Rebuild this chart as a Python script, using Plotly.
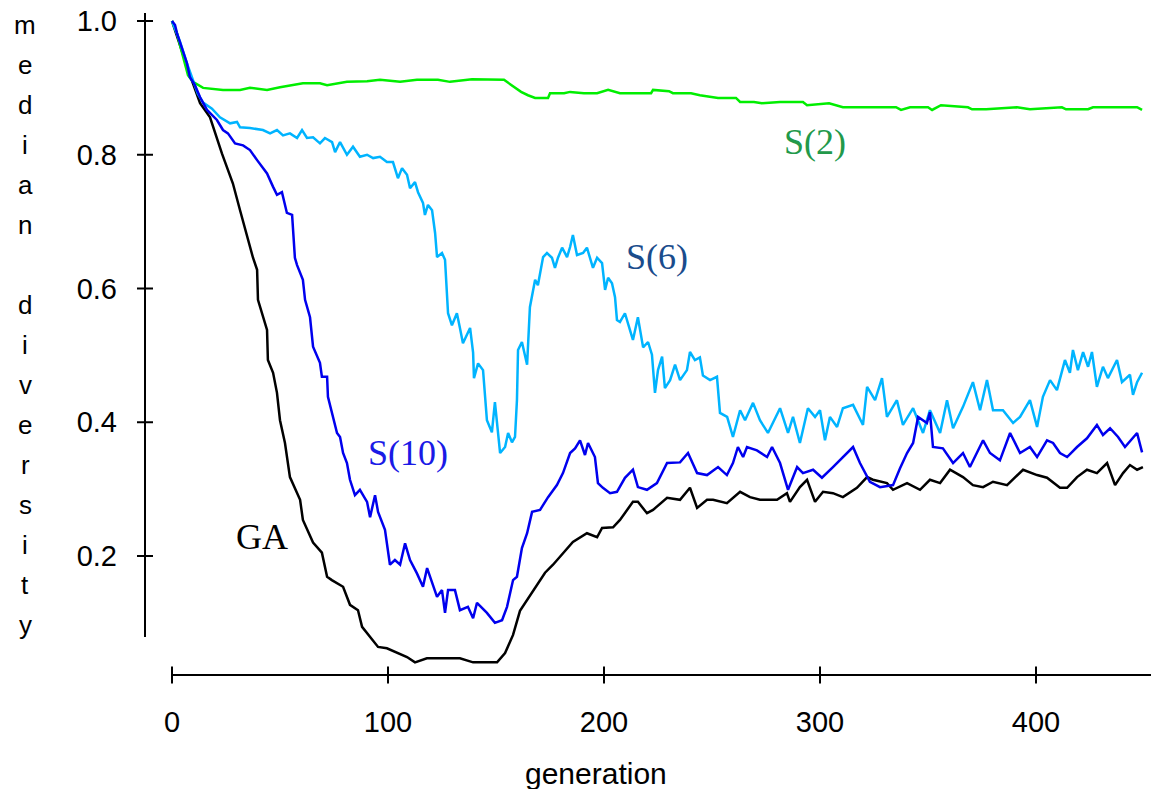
import plotly.graph_objects as go

# ---------------- data ----------------
ga_gen = [0, 3.7, 8.3, 13, 17.6, 23.1, 28.2, 31.5, 34.7, 37.5, 39.4, 39.8, 44, 44.4, 46.8, 48.6,
          50, 52.3, 54.6, 59.3, 60.6, 65.3, 69.4, 71.8, 74, 79.2, 82.4, 86.1, 88, 91.7, 95.4,
          99.5, 104.2, 108.8, 112.5, 118, 124, 133.3, 139.4, 150.5, 154.2, 157.9, 161.1, 164.4,
          167.1, 172.7, 176.4, 181, 185.6, 192.1, 196.8, 199.1, 204.2, 207.4, 213.4, 215.7,
          219.9, 222.7, 229.2, 235.2, 239.8, 243.1, 247.7, 250.5, 256.9, 263, 267.6, 272.2,
          280.1, 284.7, 286.1, 290.7, 294, 297.7, 301.4, 306, 310.6, 317.1, 321.8, 324.5, 331,
          333.8, 340.3, 346.3, 350.9, 355.6, 360.2, 366.2, 370.8, 375.5, 380.1, 386.6, 394,
          400.5, 405.1, 411.1, 414.4, 419, 423.6, 428.2, 432.9, 436.6, 440.3, 443.5, 446.8, 449.5]
ga_div = [1.0, 0.964, 0.919, 0.877, 0.856, 0.802, 0.757, 0.717, 0.677, 0.646, 0.628, 0.583, 0.538,
          0.493, 0.474, 0.444, 0.403, 0.369, 0.318, 0.284, 0.254, 0.220, 0.205, 0.169, 0.164,
          0.154, 0.127, 0.119, 0.094, 0.079, 0.064, 0.062, 0.056, 0.049, 0.041, 0.047, 0.047,
          0.047, 0.041, 0.041, 0.055, 0.082, 0.118, 0.134, 0.149, 0.175, 0.187, 0.204, 0.221,
          0.234, 0.228, 0.242, 0.243, 0.254, 0.281, 0.281, 0.264, 0.269, 0.287, 0.284, 0.302,
          0.272, 0.284, 0.284, 0.279, 0.296, 0.288, 0.284, 0.284, 0.294, 0.281, 0.303, 0.314,
          0.281, 0.296, 0.294, 0.288, 0.302, 0.318, 0.314, 0.309, 0.299, 0.309, 0.299, 0.314,
          0.309, 0.329, 0.318, 0.306, 0.303, 0.311, 0.306, 0.329, 0.321, 0.317, 0.302, 0.302,
          0.318, 0.329, 0.324, 0.339, 0.306, 0.324, 0.336, 0.329, 0.333]

s10_gen = [0, 1.4, 2.3, 3.7, 6.9, 8.3, 10.6, 13, 16.2, 20.8, 23.6, 25.9, 29.2, 32.9, 36.1, 39.4,
           41.7, 44, 46.8, 48.6, 50.9, 53.2, 55.6, 56.9, 57.9, 60.6, 61.6, 63.9, 65.3, 68.5,
           69.4, 71.8, 72.2, 74.5, 76.4, 77.8, 79.2, 81, 82.4, 84.7, 87, 90.3, 91.7, 94, 95.4,
           98.6, 100.9, 103.2, 105.6, 107.9, 110.2, 113.4, 116.2, 118.1, 120.4, 122.7, 125,
           126.4, 127.8, 131, 133.3, 137, 139.4, 141.2, 145.8, 149.5, 152.8, 155.1, 157.9, 159.7,
           162, 164.4, 166.7, 170.4, 174.1, 178.2, 181, 184.3, 186.6, 188.9, 191.2, 192.6, 195.8,
           197.2, 199.5, 202.8, 206, 209.7, 213.4, 215.7, 219.9, 224.5, 229.2, 235.2, 238.9,
           243.1, 247.7, 252.8, 256.9, 259.7, 262, 264.4, 266.2, 270.8, 275.5, 277.8, 281.5,
           285.2, 289.4, 292.1, 296.8, 300.9, 306, 310.6, 315.3, 318.5, 323.1, 327.8, 333.8, 337,
           340.3, 343.1, 345.4, 349.5, 350.9, 352.3, 356.9, 361.6, 366.2, 369.4, 372.7, 375.5,
           378.7, 383.3, 388, 392.6, 397.2, 400.5, 405.1, 407.9, 411.1, 414.4, 419, 423.6, 428.2,
           431, 434.3, 438, 441.2, 446.8, 449.1]
s10_div = [1.0, 0.994, 0.982, 0.969, 0.937, 0.916, 0.904, 0.886, 0.867, 0.852, 0.837, 0.832, 0.817,
           0.814, 0.807, 0.792, 0.781, 0.772, 0.752, 0.740, 0.744, 0.713, 0.710, 0.646, 0.635,
           0.613, 0.583, 0.557, 0.513, 0.489, 0.468, 0.468, 0.438, 0.408, 0.384, 0.378, 0.354,
           0.339, 0.314, 0.291, 0.299, 0.281, 0.258, 0.291, 0.266, 0.239, 0.187, 0.194, 0.187,
           0.219, 0.194, 0.174, 0.154, 0.182, 0.160, 0.139, 0.149, 0.115, 0.149, 0.149, 0.119,
           0.124, 0.107, 0.130, 0.115, 0.100, 0.104, 0.124, 0.164, 0.169, 0.212, 0.234, 0.266,
           0.269, 0.288, 0.306, 0.324, 0.354, 0.361, 0.373, 0.351, 0.369, 0.348, 0.309, 0.302,
           0.294, 0.296, 0.317, 0.329, 0.303, 0.299, 0.309, 0.339, 0.340, 0.354, 0.324, 0.321,
           0.333, 0.321, 0.339, 0.363, 0.348, 0.363, 0.358, 0.348, 0.363, 0.339, 0.299, 0.333,
           0.324, 0.329, 0.317, 0.333, 0.348, 0.363, 0.339, 0.311, 0.303, 0.306, 0.331, 0.354,
           0.369, 0.408, 0.399, 0.415, 0.363, 0.361, 0.339, 0.354, 0.333, 0.354, 0.373, 0.354,
           0.343, 0.384, 0.354, 0.363, 0.348, 0.373, 0.369, 0.354, 0.348, 0.363, 0.376, 0.396,
           0.381, 0.391, 0.378, 0.363, 0.384, 0.355]

s6_gen = [0, 3.7, 6.9, 10.6, 12, 14.4, 18.5, 22.2, 26.9, 30.1, 31.5, 36.1, 42.1, 45.4, 48.6, 51.4,
          54.6, 57.9, 60.2, 62.5, 65.3, 68.5, 70.8, 74.1, 75.5, 77.8, 81, 83.8, 87, 90.3, 93.1,
          96.3, 99.5, 102.3, 104.6, 106.5, 108.8, 110.2, 112.5, 113.9, 116.2, 117.1, 118.5,
          120.4, 121.8, 122.7, 125, 126.4, 127.8, 129.6, 131.9, 133.3, 134.7, 138, 139.4, 139.8,
          141.7, 144, 144.9, 145.8, 148.1, 149.5, 151.9, 154.2, 155.6, 157.4, 158.8, 159.7,
          160.2, 162, 164.4, 165.7, 168.1, 169.4, 171.8, 173.6, 175.9, 177.3, 178.7, 180.6,
          182.9, 184.3, 185.6, 187.5, 190.3, 192.1, 194.9, 196.8, 199.1, 200.5, 201.9, 203.7,
          205.1, 206, 207.4, 209.7, 212, 213.4, 215.7, 218.1, 220.4, 222.2, 223.6, 225, 226.9,
          228.2, 230.6, 232.9, 235.2, 238.4, 239.8, 242.1, 244.4, 245.8, 249.1, 252.3, 253.7,
          257, 259.7, 263, 265.3, 269, 272.2, 275.9, 281.5, 285.2, 287.5, 290.7, 294.4, 297.7,
          300, 302.3, 304.6, 307.9, 310.6, 315.3, 319.9, 321.8, 325.5, 328.7, 331, 335.6, 338.4,
          343.1, 347.7, 350.9, 355.6, 358.8, 361.6, 366.2, 370.8, 374.1, 377.3, 380.1, 384.7,
          389.4, 392.6, 397.2, 400.5, 403.2, 406.5, 409.7, 413.4, 415.7, 417.1, 419.4, 421.8,
          424.1, 425.9, 428.2, 431, 433.3, 437.5, 439.8, 443.5, 444.9, 446.8, 449.1]
s6_div = [1.0, 0.969, 0.937, 0.904, 0.891, 0.878, 0.869, 0.856, 0.847, 0.849, 0.841, 0.840, 0.837,
          0.832, 0.837, 0.829, 0.832, 0.825, 0.837, 0.825, 0.826, 0.817, 0.825, 0.819, 0.804,
          0.819, 0.800, 0.812, 0.797, 0.800, 0.795, 0.797, 0.789, 0.789, 0.765, 0.780, 0.770,
          0.750, 0.759, 0.744, 0.728, 0.710, 0.725, 0.717, 0.683, 0.647, 0.653, 0.643, 0.563,
          0.545, 0.563, 0.541, 0.518, 0.541, 0.504, 0.466, 0.488, 0.478, 0.433, 0.403, 0.385,
          0.430, 0.354, 0.363, 0.384, 0.370, 0.378, 0.433, 0.508, 0.520, 0.486, 0.572, 0.613,
          0.605, 0.647, 0.653, 0.646, 0.631, 0.646, 0.661, 0.647, 0.662, 0.680, 0.650, 0.653,
          0.661, 0.631, 0.646, 0.638, 0.598, 0.616, 0.608, 0.587, 0.553, 0.550, 0.563, 0.538,
          0.523, 0.557, 0.512, 0.520, 0.501, 0.444, 0.478, 0.498, 0.451, 0.463, 0.486, 0.463,
          0.478, 0.505, 0.493, 0.497, 0.470, 0.463, 0.468, 0.414, 0.408, 0.378, 0.418, 0.403,
          0.429, 0.403, 0.384, 0.421, 0.384, 0.408, 0.369, 0.421, 0.408, 0.418, 0.373, 0.408,
          0.393, 0.421, 0.426, 0.396, 0.453, 0.433, 0.466, 0.408, 0.433, 0.396, 0.421, 0.384,
          0.418, 0.384, 0.433, 0.391, 0.423, 0.460, 0.418, 0.463, 0.418, 0.418, 0.399, 0.408,
          0.433, 0.393, 0.438, 0.463, 0.448, 0.493, 0.474, 0.508, 0.478, 0.505, 0.483, 0.505,
          0.453, 0.483, 0.466, 0.493, 0.460, 0.471, 0.441, 0.460, 0.474]

s2_gen = [0, 2.3, 3.7, 5.6, 7.4, 9.7, 14.4, 23.6, 31.5, 36.1, 44, 50, 56, 60.6, 68.5, 71.8, 81,
          90.3, 96.3, 105.6, 113.4, 123.1, 128.7, 134.7, 138.9, 153.7, 157.4, 161.6, 164.8,
          168.1, 174.1, 175, 181.5, 184.3, 190.7, 196.8, 201.9, 207.4, 221.8, 222.7, 230.1,
          231.9, 240.3, 244.4, 252.8, 261.1, 263, 269.4, 273.1, 281.5, 292.1, 294, 304.2, 310.6,
          314.8, 335.2, 337.5, 341.7, 350, 351.9, 356, 368.5, 370.4, 376.9, 391.2, 397.2, 412,
          413.9, 424.1, 426.4, 446.8, 449.1]
s2_div = [1.0, 0.982, 0.964, 0.939, 0.919, 0.909, 0.900, 0.897, 0.897, 0.900, 0.897, 0.901, 0.904,
          0.907, 0.907, 0.904, 0.909, 0.910, 0.912, 0.909, 0.912, 0.912, 0.909, 0.912, 0.913,
          0.912, 0.904, 0.894, 0.889, 0.885, 0.885, 0.892, 0.892, 0.894, 0.892, 0.892, 0.897,
          0.892, 0.892, 0.897, 0.895, 0.892, 0.892, 0.889, 0.885, 0.885, 0.879, 0.879, 0.877,
          0.879, 0.879, 0.874, 0.877, 0.871, 0.871, 0.871, 0.867, 0.871, 0.871, 0.867, 0.874,
          0.871, 0.868, 0.868, 0.871, 0.868, 0.871, 0.868, 0.868, 0.871, 0.871, 0.867]

x_ticks = [0, 100, 200, 300, 400]
x_tick_labels = ["0", "100", "200", "300", "400"]
y_ticks = [0.2, 0.4, 0.6, 0.8, 1.0]
y_tick_labels = ["0.2", "0.4", "0.6", "0.8", "1.0"]

series = [
    ("GA", ga_gen, ga_div, "#000000"),
    ("S(2)", s2_gen, s2_div, "#00ee00"),
    ("S(6)", s6_gen, s6_div, "#00b4ff"),
    ("S(10)", s10_gen, s10_div, "#0000ee"),
]

# ---------------- geometry ----------------
W, H = 1151, 789
ML, MR, MT, MB = 145, 0, 10, 114
X_RANGE = [-12.5, 453.24]
Y_RANGE = [0.02206, 1.01645]
PW = W - ML - MR
PH = H - MT - MB

fig = go.Figure()
for name, gx, gy, col in series:
    fig.add_trace(go.Scatter(x=gx, y=gy, mode="lines", name=name,
                             line=dict(color=col, width=2.5), showlegend=False,
                             hoverinfo="skip", cliponaxis=False))

sans = "Liberation Sans, Arial, Helvetica, sans-serif"
serif = "Liberation Serif, Times New Roman, Times, serif"

shapes = []
# y axis line and crossing ticks
shapes.append(dict(type="line", xref="paper", yref="y", x0=0, x1=0, y0=0.079, y1=1.012,
                   line=dict(color="black", width=2)))
for t in y_ticks:
    shapes.append(dict(type="line", xref="paper", yref="y", x0=-8 / PW, x1=8 / PW, y0=t, y1=t,
                       line=dict(color="black", width=2)))
# x axis line and crossing ticks
shapes.append(dict(type="line", xref="x", yref="paper", x0=0, x1=X_RANGE[1], y0=0, y1=0,
                   line=dict(color="black", width=2)))
for t in x_ticks:
    shapes.append(dict(type="line", xref="x", yref="paper", x0=t, x1=t, y0=-8.5 / PH, y1=8.5 / PH,
                       line=dict(color="black", width=2)))

annotations = []
# series labels
labels = [
    ("S(2)", 815, 142, "#22994a"),
    ("S(6)", 657, 257, "#1a4c8c"),
    ("S(10)", 408, 453, "#1a1ae6"),
    ("GA", 262, 537, "#000000"),
]
for txt, px, py, col in labels:
    annotations.append(dict(text=txt, xref="paper", yref="paper",
                            x=(px - ML) / PW, y=1 - (py - MT) / PH,
                            xanchor="center", yanchor="middle", showarrow=False,
                            font=dict(family=serif, size=36, color=col)))
# vertical stacked y-axis title
title_letters = list("median") + [""] + list("diversity")
for i, ch in enumerate(title_letters):
    if not ch:
        continue
    py = 25 + 40 * i
    annotations.append(dict(text=ch, xref="paper", yref="paper",
                            x=(25 - ML) / PW, y=1 - (py - MT) / PH,
                            xanchor="center", yanchor="middle", showarrow=False,
                            font=dict(family=sans, size=26, color="black")))
# x axis title
annotations.append(dict(text="generation", xref="paper", yref="paper",
                        x=(596 - ML) / PW, y=1 - (773 - MT) / PH,
                        xanchor="center", yanchor="middle", showarrow=False,
                        font=dict(family=sans, size=30, color="black")))

fig.update_layout(
    width=W, height=H,
    margin=dict(l=ML, r=MR, t=MT, b=MB, pad=0),
    paper_bgcolor="white", plot_bgcolor="white",
    shapes=shapes, annotations=annotations,
    xaxis=dict(range=X_RANGE, showgrid=False, zeroline=False, showline=False, ticks="",
               tickvals=x_ticks, ticktext=x_tick_labels, ticklabelstandoff=27,
               tickfont=dict(family=sans, size=29, color="black")),
    yaxis=dict(range=Y_RANGE, showgrid=False, zeroline=False, showline=False, ticks="",
               tickvals=y_ticks, ticktext=y_tick_labels, ticklabelstandoff=27,
               tickfont=dict(family=sans, size=29, color="black")),
)

fig.write_html("out.html")
